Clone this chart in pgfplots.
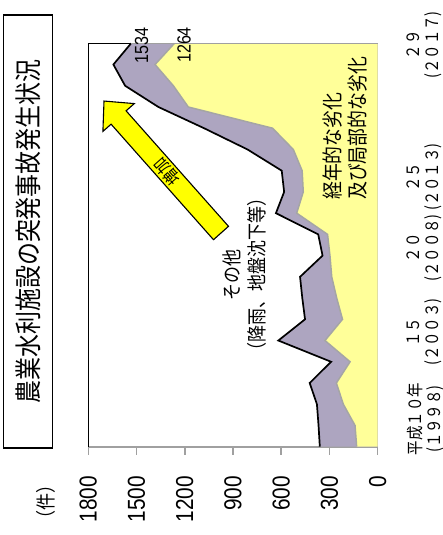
\documentclass[border=0pt]{standalone}
\usepackage{fontspec}
\setmainfont{Noto Sans CJK JP}[FakeStretch=0.85]
\newfontfamily\numfont{Liberation Sans}[FakeStretch=0.85]
\usepackage{pgfplots}
\usepackage{pgfplotstable}
\pgfplotsset{compat=1.18}
\definecolor{purp}{RGB}{173,165,192}
\definecolor{yel}{RGB}{255,255,153}
\definecolor{arrowy}{RGB}{255,255,0}
\definecolor{axgray}{RGB}{160,160,160}
\definecolor{edgegray}{RGB}{165,165,165}

\pgfplotstableread{
year total aging
1998 360 131
1999 368 141
2000 378 214
2001 423 257
2002 290 172
2003 618 328
2004 452 219
2005 469 255
2006 483 286
2007 343 297
2008 370 312
2009 633 504
2010 582 463
2011 597 470
2012 810 525
2013 1080 654
2014 1364 1178
2015 1571 1271
2016 1644 1385
2017 1534 1264
}\data

\begin{document}
\begin{tikzpicture}
\path[use as bounding box] (0,0) rectangle (442pt,535pt);
\begin{axis}[
  at={(88.3pt,88.3pt)}, anchor=south west,
  scale only axis, width=289.4pt, height=403.4pt,
  xmin=-1800, xmax=0, ymin=1998, ymax=2017,
  clip=false, no markers,
  axis x line*=bottom, axis y line*=right,
  x axis line style={draw=axgray, line width=2pt},
  y axis line style={draw=axgray, line width=1.5pt},
  xtick={-1800,-1500,-1200,-900,-600,-300,0},
  xticklabels={1800,1500,1200,900,600,300,0},
  tick align=outside,
  major tick length=8pt,
  xtick style={draw=axgray, line width=1.5pt},
  ytick={1999.30,2003.40,2007.36,2010.70,2016.92},
  yticklabels={{平成１０年\\(１９９８)},{１５\\(２００３)},{２０\\(２００８)},{２５\\(２０１３)},{２９\\(２０１７)}},
  ytick style={draw=none},
  xticklabel style={font=\numfont\fontsize{24.5}{26}\selectfont, rotate=90, anchor=east, inner xsep=21pt, inner ysep=0pt},
  yticklabel style={font=\fontsize{17}{19}\selectfont, rotate=90, anchor=north, align=center, inner ysep=21pt, inner xsep=0pt},
]
\addplot[fill=purp, draw=none] table[x expr=-\thisrow{total}, y=year]{\data} -- (axis cs:0,2017) -- (axis cs:0,1998) -- cycle;
\addplot[fill=yel, draw=none] table[x expr=-\thisrow{aging}, y=year]{\data} -- (axis cs:0,2017) -- (axis cs:0,1998) -- cycle;
\addplot[draw=edgegray, line width=1.5pt] table[x expr=-\thisrow{aging}, y=year]{\data};
\addplot[draw=black, line width=1.7pt] table[x expr=-\thisrow{total}, y=year]{\data};
\draw[black, line width=1.3pt] (axis cs:-1800,1998) -- (axis cs:-1800,2017) -- (axis cs:-1534,2017);
\draw[axgray, line width=1.3pt] (axis cs:-1534,2017) -- (axis cs:0,2017);
\draw[fill=arrowy, draw=black, line width=1.1pt, line join=miter]
  (axis cs:-1702.3,2014.28) -- (axis cs:-1513.9,2014.16) -- (axis cs:-1564.9,2013.82)
  -- (axis cs:-928,2008.38) -- (axis cs:-1021.3,2007.75) -- (axis cs:-1658.2,2013.19)
  -- (axis cs:-1709.2,2012.85) -- cycle;
\node[rotate=131.5, inner sep=0pt, font=\fontsize{17}{17}\selectfont] at (axis cs:-1310.5,2010.94) {増加};
\end{axis}
\draw[black, line width=1.2pt] (3.3pt,87pt) rectangle (52.7pt,520pt);
\node[rotate=90, font=\fontsize{27}{27}\selectfont] at (28pt,303.5pt) {農業水利施設の突発事故発生状況};
\node[rotate=90, font=\fontsize{20}{20}\selectfont] at (46pt,33pt) {（件）};
\node[rotate=90, align=center, font=\fontsize{20}{25.8}\selectfont] at (244.6pt,260pt) {その他\\（降雨、地盤沈下等）};
\node[rotate=90, anchor=west, align=left, inner sep=0pt, font=\fontsize{21}{25.5}\selectfont] at (345pt,335pt) {経年的な劣化\\及び局部的な劣化};
\node[rotate=90, font=\numfont\fontsize{19}{19}\selectfont] at (141.7pt,489.2pt) {1534};
\node[rotate=90, font=\numfont\fontsize{19}{19}\selectfont] at (184pt,490pt) {1264};
\end{tikzpicture}
\end{document}
